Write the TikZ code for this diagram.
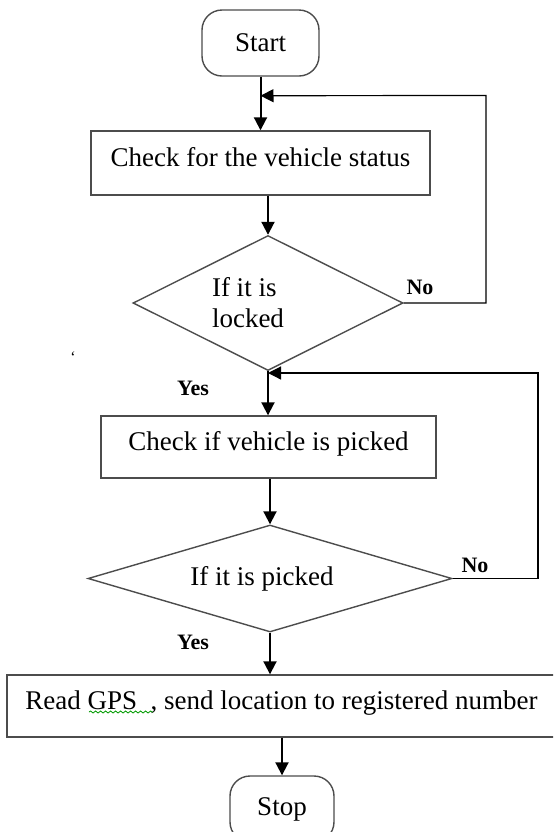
\documentclass[tikz,border=0pt]{standalone}
\usepackage{fontspec}
\setmainfont{Liberation Serif}
\usetikzlibrary{shapes.geometric}
\usetikzlibrary{arrows.meta}
\usetikzlibrary{decorations.pathmorphing}

\begin{document}
\begin{tikzpicture}[x=0.5pt,y=-0.5pt,
  every node/.style={font=\fontsize{13.5}{15.5}\selectfont},
  box/.style={draw=black!70,line width=0.7pt,inner sep=0pt,text height=10.5pt,text depth=7.5pt},
  term/.style={draw=black!70,line width=0.7pt,rounded corners=10pt,inner sep=0pt},
  decision/.style={draw=black!70,line width=0.7pt,diamond,aspect=2.5,inner sep=0pt,align=left},
  flow/.style={line width=1pt,-{Triangle[length=6.5pt,width=6.5pt]}},
  back/.style={line width=0.6pt,-{Triangle[length=6.5pt,width=6.5pt]}},
  answer/.style={font=\bfseries\fontsize{11}{13}\selectfont}]
  \useasboundingbox (0,0) rectangle (553,832);
  \clip (0,0) rectangle (553,832);

  \node[term,minimum width=58.5pt,minimum height=33pt] (start) at (260.5,43) {Start};
  \node[box,minimum width=169.5pt,minimum height=32pt] (check1) at (260.5,163) {Check for the vehicle status};
  \node[decision,minimum width=135pt,minimum height=67.5pt] (lock) at (268,303) {If it is\\locked\hspace*{20pt}};
  \node[box,minimum width=167.5pt,minimum height=31pt] (check2) at (268.5,447) {Check if vehicle is picked};
  \node[decision,minimum width=182pt,minimum height=53.5pt] (pick) at (270,578.5) {If it is picked\hspace*{8pt}};
  \node[box,minimum width=274.5pt,minimum height=31pt] (gps) at (281.5,706) {Read GPS\ \ , send location to registered number};
  \node[term,minimum width=52pt,minimum height=33pt] (stop) at (282,809) {Stop};

  \draw[flow] (start) -- (start |- check1.north);
  \draw[flow] (check1.south -| lock) -- (lock);
  \draw[flow] (lock) -- (lock |- check2.north);
  \draw[flow] (check2.south -| pick) -- (pick);
  \draw[flow] (pick) -- (pick |- gps.north);
  \draw[flow] (gps.south -| stop) -- (stop);

  % loops back when the answer is no
  \coordinate (j1) at ([yshift=-9.5pt]start.south);
  \coordinate (r1) at (486,95.5);
  \draw[back] (lock.east) -| (r1) -- (j1);
  \coordinate (r2) at (538,373);
  \coordinate (j2) at (lock |- r2);
  \draw[back] (pick.east) -| (r2) -- (j2);

  \node[answer] (no1) at (420,287) {No};
  \node[answer] (no2) at (475,565) {No};
  \node[answer] (yes1) at (193,388) {Yes};
  \node[answer] (yes2) at (193,642) {Yes};

  \draw[green!60!black,line width=0.4pt,decorate,decoration={snake,amplitude=0.5pt,segment length=2.5pt}] (89,712) -- (153,712);
  \node[font=\fontsize{8}{8}\selectfont] (tick) at (73,357) {`};
\end{tikzpicture}
\end{document}
